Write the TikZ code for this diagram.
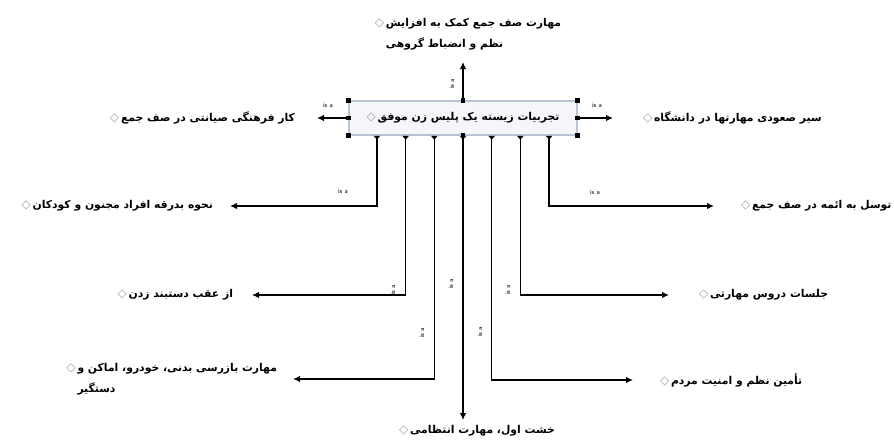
\documentclass[tikz,border=0pt]{standalone}
\usepackage{fontspec}
\usetikzlibrary{arrows.meta,calc}
\TeXXeTstate=1
\newfontfamily\fa[Script=Arabic]{DejaVu Sans}
\newfontfamily\dv{DejaVu Sans}
\definecolor{hubfill}{HTML}{F4F6FA}
\definecolor{hubdraw}{HTML}{B8C3D6}
\definecolor{diagray}{HTML}{A0A0A0}
\newcommand{\dia}{{\dv\fontsize{12}{12}\selectfont\textcolor{diagray}{◇}}}
\newcommand{\fat}[1]{{\fa\bfseries\beginR #1\endR}}
\begin{document}
\begin{tikzpicture}[x=1pt,y=-1pt,
  conn/.style={line width=1.2pt,-{Latex[length=7pt,width=6.5pt]}},
  portconn/.style={line width=1.2pt,{Triangle[reversed,length=4pt,width=6.5pt]}-{Latex[length=7pt,width=6.5pt]}},
  isa/.style={font=\fontsize{6.5}{7}\selectfont\sffamily,inner sep=1pt},
  txt/.style={font=\fontsize{10.8}{21}\selectfont,inner sep=0pt,align=left},
  lefttxt/.style={txt,anchor=east,outer xsep=17pt,outer ysep=0pt},
  righttxt/.style={txt,anchor=west,outer xsep=27pt,outer ysep=0pt},
  hubbox/.style={draw=hubdraw,fill=hubfill,line width=1.5pt,minimum width=228pt,minimum height=34pt,inner sep=0pt,font=\fontsize{10.8}{12}\selectfont},
]
\useasboundingbox (0,0) rectangle (894,445);

\node[hubbox] (hub) at (463,118) {\dia\,\fat{تجربیات زیسته یک پلیس زن موفق}};
\foreach \a in {north west,north,north east,east,south east,south,south west,west}
  \fill (hub.\a) +(-2.4,-2.4) rectangle +(2.4,2.4);

% ports along bottom
\foreach \k in {1,...,7}
  \coordinate (p\k) at ($(hub.south west)!\k/8!(hub.south east)$);

% top
\node[txt,anchor=south,outer ysep=12pt] (top) at (468,62)
  {\dia\,\fat{مهارت صف جمع کمک به افزایش}\\ \phantom{\dia\,}\fat{نظم و انضباط گروهی}};
\draw[conn] (hub.north) -- (hub.north |- top.south);
\node[isa,rotate=90] at (452,84) {is a};

% left / right
\node[txt,anchor=east,outer xsep=22pt] (lft) at (317,118) {\dia\,\fat{کار فرهنگی صیانتی در صف جمع}};
\draw[conn] (hub.west) -- (lft.east);
\node[isa] at (328,105) {is a};

\node[righttxt,outer xsep=30pt] (rgt) at (613,118) {\dia\,\fat{سیر صعودی مهارتها در دانشگاه}};
\draw[conn] (hub.east) -- (rgt.west);
\node[isa] at (597,105) {is a};

% bottom-left branches
\node[lefttxt] (n1) at (230,206) {\dia\,\fat{نحوه بدرقه افراد مجنون و کودکان}};
\draw[portconn] (p1) |- (n1);
\node[isa] at (343,191) {is a};

\node[lefttxt,outer xsep=19pt] (n2) at (252,295) {\dia\,\fat{از عقب دستبند زدن}};
\draw[portconn] (p2) |- (n2);
\node[isa,rotate=90] at (393,290) {is a};

\node[lefttxt,outer xsep=16pt] (n3) at (293,379)
  {\dia\,\fat{مهارت بازرسی بدنی، خودرو، اماکن و}\\ \phantom{\dia\,}\fat{دستگیر}};
\draw[portconn] (p3) |- (n3);
\node[isa,rotate=90] at (422,333) {is a};

% bottom
\node[txt,anchor=north,outer ysep=5pt] (n4) at (477,420) {\dia\,\fat{خشت اول، مهارت انتظامی}};
\draw[portconn] (p4) -- (p4 |- n4.north);
\node[isa,rotate=90] at (451,284) {is a};

% bottom-right branches
\node[righttxt] (n5) at (633,380) {\dia\,\fat{تأمین نظم و امنیت مردم}};
\draw[portconn] (p5) |- (n5);
\node[isa,rotate=90] at (480,332) {is a};

\node[righttxt,outer xsep=30pt] (n6) at (669,295) {\dia\,\fat{جلسات دروس مهارتی}};
\draw[portconn] (p6) |- (n6);
\node[isa,rotate=90] at (508,290) {is a};

\node[righttxt] (n7) at (714,206) {\dia\,\fat{توسل به ائمه در صف جمع}};
\draw[portconn] (p7) |- (n7);
\node[isa] at (595,192) {is a};
\end{tikzpicture}
\end{document}
